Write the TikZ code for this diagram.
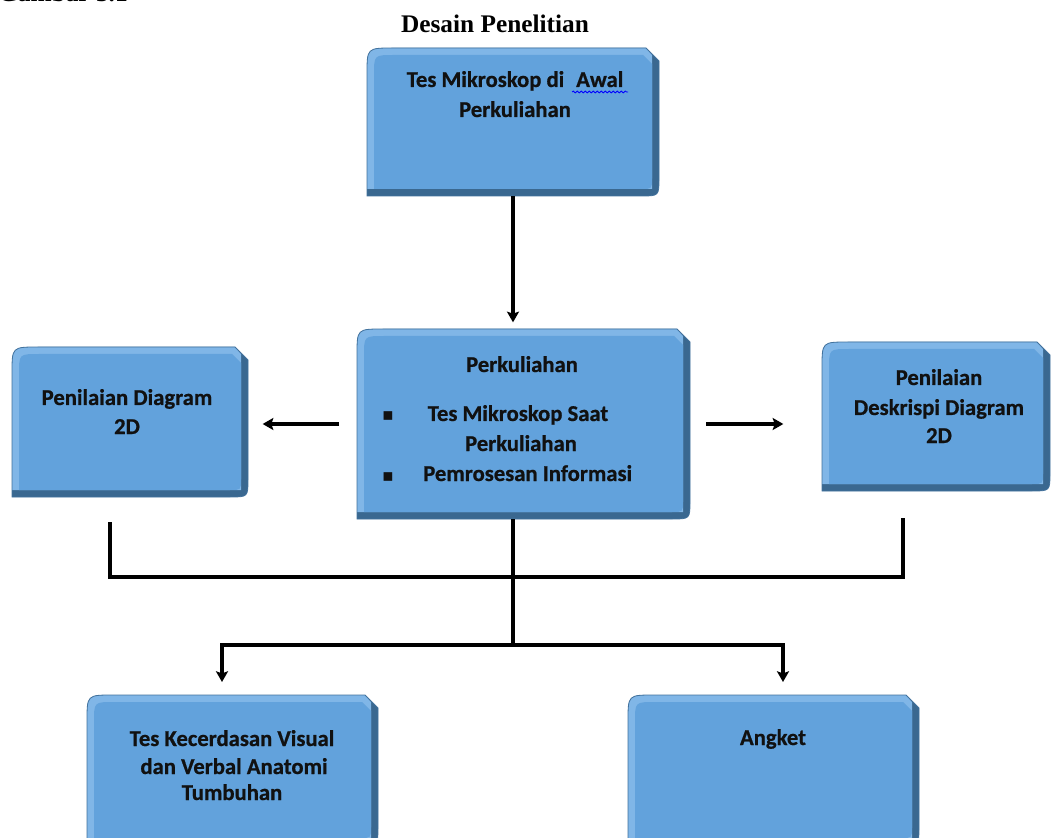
\documentclass[tikz,border=0pt]{standalone}
\usepackage{fontspec}
\setmainfont{Liberation Serif}
\newfontfamily\calfont{Carlito}[BoldFeatures={FakeBold=0.7}]
\newfontfamily\symfont{DejaVu Sans}
\usetikzlibrary{arrows.meta,calc,decorations.pathmorphing}
\definecolor{bface}{HTML}{62A2DC}
\definecolor{blight}{HTML}{80B6E7}
\definecolor{bdark}{HTML}{3A6890}
\definecolor{bedge}{HTML}{41719C}
\definecolor{txt}{HTML}{111111}
\tikzset{
  boxarea/.style={draw=none,rectangle,inner sep=0pt,outer sep=0pt},
  conn/.style={line width=2.3pt,black},
  arr/.style={conn,-{Stealth[length=8pt,width=9pt,inset=1.5pt]}},
  boxtext/.style={font=\calfont\bfseries\fontsize{17}{22.5}\selectfont,text=txt,anchor=base,inner sep=0pt},
  bullet/.style={font=\symfont\fontsize{13}{15}\selectfont,text=txt,anchor=base,inner sep=0pt},
  titletext/.style={font=\bfseries\fontsize{19}{22}\selectfont,text=black,inner sep=0pt}
}
% name, x1, y1, x2, y2
\newcommand\bevelbox[5]{%
  \fill[bdark] (#2,#5) -- (#2,#3+26) .. controls (#2,#3) .. (#2+26,#3) -- (#4-13,#3) -- (#4,#3+13) -- (#4,#5-18) .. controls (#4,#5) .. (#4-18,#5) -- cycle;
  \fill[blight] (#2,#5-7) -- (#2,#3+26) .. controls (#2,#3) .. (#2+26,#3) -- (#4-13,#3) -- (#4-7,#3+7) -- (#4-7,#5-7) -- cycle;
  \fill[bface] (#2+7,#5-7) -- (#2+7,#3+27) .. controls (#2+7,#3+7) .. (#2+27,#3+7) -- (#4-16,#3+7) -- (#4-7,#3+16) -- (#4-7,#5-18) .. controls (#4-7,#5-7) .. (#4-18,#5-7) -- cycle;
  \draw[bedge,line width=0.6pt] (#2,#5) -- (#2,#3+26) .. controls (#2,#3) .. (#2+26,#3) -- (#4-13,#3) -- (#4,#3+13) -- (#4,#5-18) .. controls (#4,#5) .. (#4-18,#5) -- cycle;
  \node[boxarea,minimum width={(#4-#2)*0.75pt},minimum height={(#5-#3)*0.75pt}] (#1) at ({(#2+#4)/2},{(#3+#5)/2}) {};
}
\begin{document}
\begin{tikzpicture}[x=0.75pt,y=-0.75pt]
\useasboundingbox (0,0) rectangle (1051,838);
% heading
\node[titletext,anchor=base east] (fig) at (128,1.5) {Gambar 3.1};
\node[titletext,anchor=base] (title) at (495,33) {Desain Penelitian};
% boxes
\bevelbox{top}{367}{48}{659}{196}
\bevelbox{mid}{357}{329}{690}{519}
\bevelbox{left}{12}{347}{248}{497}
\bevelbox{right}{822}{342}{1050}{491}
\bevelbox{bl}{87}{695}{378}{845}
\bevelbox{br}{628}{695}{919}{845}
% texts
\node[boxtext] (t1a) at (515,87) {Tes Mikroskop di\hspace{0.3em} Awal};
\node[boxtext] (t1b) at (515,117) {Perkuliahan};
\draw[blue,line width=0.6pt,decorate,decoration={snake,amplitude=0.7pt,segment length=3pt}] (572,92) -- (628,92);
\node[boxtext] (t2) at (522,372) {Perkuliahan};
\node[bullet] (b1) at (388,421) {▪};
\node[bullet] (b2) at (388,481) {▪};
\node[boxtext] (t3a) at (518,421) {Tes Mikroskop Saat};
\node[boxtext] (t3b) at (521,451) {Perkuliahan};
\node[boxtext,anchor=base west] (t4) at (423,481) {Pemrosesan Informasi};
\node[boxtext] (t5a) at (127,405) {Penilaian Diagram};
\node[boxtext] (t5b) at (127,434) {2D};
\node[boxtext] (t6a) at (939,385) {Penilaian};
\node[boxtext] (t6b) at (939,415) {Deskrispi Diagram};
\node[boxtext] (t6c) at (939,443) {2D};
\node[boxtext] (t7a) at (232,746) {Tes Kecerdasan Visual};
\node[boxtext] (t7b) at (234,774) {dan Verbal Anatomi};
\node[boxtext] (t7c) at (232,800) {Tumbuhan};
\node[boxtext] (t8) at (773,745) {Angket};
% connectors
\draw[arr,shorten >=5pt] (top.south) -- (top.south |- mid.north);
\draw[arr,shorten <=13.5pt,shorten >=11pt] (mid.west) -- (mid.west -| left.east);
\draw[arr,shorten <=12pt,shorten >=29pt] (mid.east) -- (mid.east -| right.west);
\coordinate (lb) at (110,522);
\coordinate (rb) at (903,518);
\coordinate (jn) at (513,577);
\coordinate (sp) at (513,645);
\coordinate (al) at (222,645);
\coordinate (ar) at (783,645);
\draw[conn] (lb) |- (jn) -| (rb);
\draw[conn] (top.south |- mid.south) -- (sp);
\draw[arr,shorten >=9.75pt] (sp) -| (al |- bl.north);
\draw[arr,shorten >=9.75pt] (sp) -| (ar |- br.north);
\end{tikzpicture}
\end{document}
